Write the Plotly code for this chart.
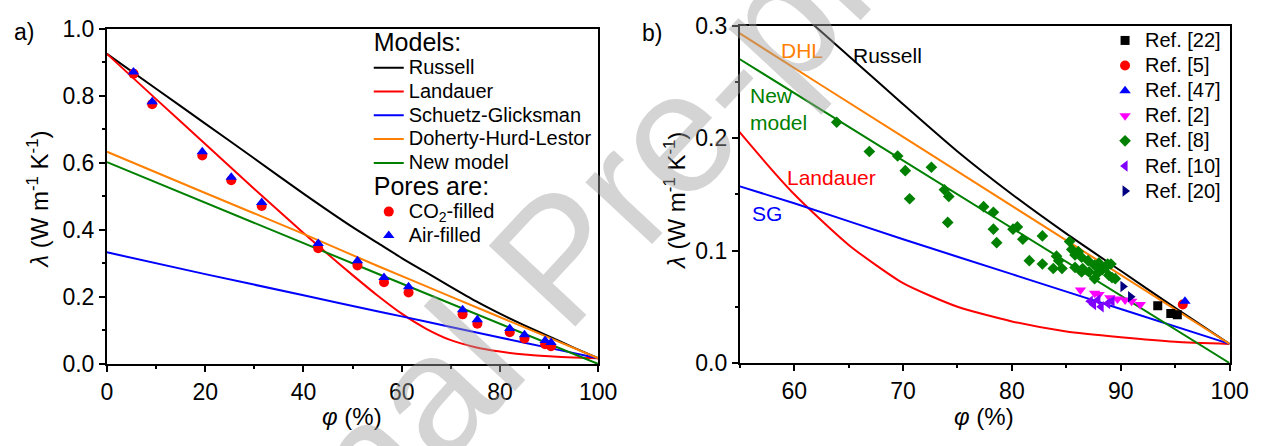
import plotly.graph_objects as go

# ---------------- model curves ----------------
phi_russell = [0, 10, 20, 30, 40, 50, 55, 60, 65, 70, 75, 80, 85, 90, 95, 100]
lam_russell = [0.925, 0.821, 0.717, 0.613, 0.508, 0.408, 0.362, 0.316, 0.273, 0.230,
               0.188, 0.150, 0.115, 0.082, 0.049, 0.017]
phi_landauer = [0, 10, 20, 30, 40, 45, 50, 55, 60, 65, 70, 75, 80, 85, 90, 95, 100]
lam_landauer = [0.925, 0.790, 0.656, 0.522, 0.391, 0.327, 0.265, 0.205, 0.150, 0.105,
                0.071, 0.050, 0.037, 0.028, 0.023, 0.019, 0.017]
phi_sg = [0, 20, 40, 55, 60, 70, 80, 90, 100]
lam_sg = [0.333, 0.268, 0.205, 0.157, 0.142, 0.110, 0.079, 0.048, 0.017]
phi_dhl = [0, 20, 40, 55, 70, 85, 100]
lam_dhl = [0.633, 0.510, 0.388, 0.293, 0.201, 0.109, 0.017]
phi_new = [0, 55, 100]
lam_new = [0.602, 0.270, 0.000]

# ---------------- panel a) experimental points ----------------
phi_exp = [5.4, 9.2, 19.4, 25.3, 31.5, 43.0, 51.0, 56.4, 61.4, 72.4, 75.4, 82.0, 85.0, 89.2, 90.4]
lam_air = [0.871, 0.782, 0.633, 0.557, 0.482, 0.359, 0.308, 0.258, 0.230, 0.162, 0.132,
           0.106, 0.087, 0.070, 0.064]
lam_co2 = [0.866, 0.775, 0.622, 0.548, 0.471, 0.345, 0.294, 0.244, 0.213, 0.148, 0.120,
           0.095, 0.076, 0.059, 0.053]

# ---------------- panel b) literature points ----------------
ref22_phi = [93.4, 94.6, 95.2]
ref22_lam = [0.051, 0.044, 0.043]
ref5_phi = [95.7]
ref5_lam = [0.052]
ref47_phi = [95.9]
ref47_lam = [0.055]
ref2_phi = [86.3, 87.6, 88.0, 89.0, 89.7, 90.4, 91.0, 91.8]
ref2_lam = [0.065, 0.062, 0.061, 0.058, 0.057, 0.056, 0.055, 0.052]
ref8_phi = [63.9, 66.9, 69.5, 70.2, 72.6, 70.6, 73.8, 74.2, 74.1, 77.4, 78.3, 78.3, 78.6,
            80.1, 80.5, 81.0, 82.8, 81.6, 82.8, 83.8, 84.6, 84.1, 84.3, 85.3, 85.5, 85.8,
            86.1, 86.4, 85.8, 86.5, 87.0, 87.1, 87.6, 87.9, 88.0, 88.3, 88.6, 88.9, 89.1,
            89.2, 88.8, 86.4, 87.6, 89.5]
ref8_lam = [0.214, 0.188, 0.184, 0.171, 0.174, 0.146, 0.154, 0.148, 0.125, 0.139, 0.134,
            0.119, 0.107, 0.119, 0.121, 0.110, 0.113, 0.091, 0.088, 0.084, 0.084, 0.095,
            0.091, 0.108, 0.101, 0.096, 0.099, 0.094, 0.085, 0.084, 0.091, 0.081, 0.087,
            0.080, 0.089, 0.083, 0.085, 0.078, 0.088, 0.076, 0.088, 0.081, 0.075, 0.075]
ref10_phi = [87.2, 87.5, 87.9, 88.2, 88.8, 89.2]
ref10_lam = [0.055, 0.052, 0.056, 0.050, 0.053, 0.055]
ref20_phi = [90.2, 90.9]
ref20_lam = [0.068, 0.059]

# ---------------- tick labels ----------------
a_xticks = [0, 20, 40, 60, 80, 100]
a_yticks = [0.0, 0.2, 0.4, 0.6, 0.8, 1.0]
b_xticks = [60, 70, 80, 90, 100]
b_yticks = [0.0, 0.1, 0.2, 0.3]

FONT = "Liberation Sans, Arial, sans-serif"
W, H = 1277, 446


def big(text, px):
    return '<span style="font-size:%dpx">%s</span>' % (px, text)


models = [
    ("Russell", phi_russell, lam_russell, "#000000"),
    ("Landauer", phi_landauer, lam_landauer, "#FF0000"),
    ("Schuetz-Glicksman", phi_sg, lam_sg, "#0000FF"),
    ("Doherty-Hurd-Lestor", phi_dhl, lam_dhl, "#FF8000"),
    ("New model", phi_new, lam_new, "#008000"),
]

fig = go.Figure()

for xa, ya, show in (("x", "y", True), ("x2", "y2", False)):
    for name, px, py, col in models:
        fig.add_trace(go.Scatter(
            x=px, y=py, mode="lines", name=big(name, 20),
            line=dict(color=col, width=2, shape="spline", smoothing=0.6),
            xaxis=xa, yaxis=ya, showlegend=show, legend="legend",
            legendgroup="models",
            legendgrouptitle=dict(text=big("Models:", 25), font=dict(size=13)),
        ))

fig.add_trace(go.Scatter(
    x=phi_exp, y=lam_co2, mode="markers", name=big("CO<sub>2</sub>-filled", 20),
    marker=dict(symbol="circle", color="#FF0000", size=10),
    xaxis="x", yaxis="y", legend="legend", legendgroup="pores",
    legendgrouptitle=dict(text=big("Pores are:", 25), font=dict(size=13)),
))
fig.add_trace(go.Scatter(
    x=phi_exp, y=lam_air, mode="markers", name=big("Air-filled", 20),
    marker=dict(symbol="triangle-up", color="#0000FF", size=10),
    xaxis="x", yaxis="y", legend="legend", legendgroup="pores",
    legendgrouptitle=dict(text=big("Pores are:", 25), font=dict(size=13)),
))

refs = [
    ("Ref. [22]", ref22_phi, ref22_lam, "square", "#000000", 9),
    ("Ref. [5]", ref5_phi, ref5_lam, "circle", "#FF0000", 10),
    ("Ref. [47]", ref47_phi, ref47_lam, "triangle-up", "#0000FF", 10),
    ("Ref. [2]", ref2_phi, ref2_lam, "triangle-down", "#FF00FF", 10),
    ("Ref. [8]", ref8_phi, ref8_lam, "diamond", "#008000", 9),
    ("Ref. [10]", ref10_phi, ref10_lam, "triangle-left", "#8000FF", 10),
    ("Ref. [20]", ref20_phi, ref20_lam, "triangle-right", "#000080", 10),
]
for name, px, py, sym, col, sz in refs:
    fig.add_trace(go.Scatter(
        x=px, y=py, mode="markers", name=big(name, 20),
        marker=dict(symbol=sym, color=col, size=sz),
        xaxis="x2", yaxis="y2", legend="legend2",
    ))

axis_common = dict(
    showline=True, linecolor="black", linewidth=2, mirror=True,
    ticks="outside", ticklen=6, tickwidth=2, tickcolor="black",
    showgrid=False, zeroline=False,
    tickfont=dict(size=23, color="black", family=FONT),
)

fig.update_layout(
    width=W, height=H, autosize=False,
    margin=dict(l=0, r=0, t=0, b=0),
    paper_bgcolor="white", plot_bgcolor="white",
    font=dict(family=FONT, size=20, color="black"),
    xaxis=dict(domain=[103 / W, 604 / W], range=[0, 100], anchor="y",
               tickvals=a_xticks, ticktext=[str(v) for v in a_xticks],
               minor=dict(dtick=10, tick0=0, ticks="outside", ticklen=3, tickwidth=2, tickcolor="black"),
               **axis_common),
    yaxis=dict(domain=[1 - 372.7 / H, 1 - 16.7 / H], range=[0, 1], anchor="x",
               tickvals=a_yticks, ticktext=["%.1f" % v for v in a_yticks],
               minor=dict(dtick=0.1, tick0=0, ticks="outside", ticklen=3, tickwidth=2, tickcolor="black"),
               **axis_common),
    xaxis2=dict(domain=[748.5 / W, 1248 / W], range=[55, 100], anchor="y2",
                tickvals=b_xticks, ticktext=[str(v) for v in b_xticks],
                minor=dict(dtick=5, tick0=0, ticks="outside", ticklen=3, tickwidth=2, tickcolor="black"),
                **axis_common),
    yaxis2=dict(domain=[1 - 371.7 / H, 1 - 13.3 / H], range=[0, 0.3], anchor="x2",
                tickvals=b_yticks, ticktext=["%.1f" % v for v in b_yticks],
                minor=dict(dtick=0.05, tick0=0, ticks="outside", ticklen=3, tickwidth=2, tickcolor="black"),
                **axis_common),
    legend=dict(x=370 / W, y=1 - 19 / H, xanchor="left", yanchor="top",
                bgcolor="rgba(0,0,0,0)", font=dict(size=16, family=FONT),
                traceorder="grouped", tracegroupgap=5),
    legend2=dict(x=1121 / W, y=1 - 10.5 / H, xanchor="left", yanchor="top",
                 bgcolor="rgba(0,0,0,0)", font=dict(size=17, family=FONT)),
)

ann = []
ytitle = "<i>λ</i> (W m<sup>-1</sup> K<sup>-1</sup>)"
xtitle = "<i>φ</i> (%)"


def pann(x, y, text, size, **kw):
    d = dict(x=x / W, y=1 - y / H, xref="paper", yref="paper", text=text,
             xanchor="center", yanchor="middle", showarrow=False,
             font=dict(size=size, family=FONT, color="black"))
    d.update(kw)
    return d


ann.append(pann(33, 198, ytitle, 24, textangle=-90))
ann.append(pann(683, 200, ytitle, 24, textangle=-90))
ann.append(pann(353, 428, xtitle, 24))
ann.append(pann(998, 428, xtitle, 24))
ann.append(pann(18, 20, "a)", 23))
ann.append(pann(659, 21, "b)", 23))


def dann(x, y, text, color, **kw):
    d = dict(x=x, y=y, xref="x2", yref="y2", text=text, showarrow=False,
             xanchor="center", yanchor="middle",
             font=dict(size=21, family=FONT, color=color))
    d.update(kw)
    return d


# in-plot curve labels (panel b)
ann.append(dann(68.56, 0.273, "Russell", "#000000"))
ann.append(dann(60.72, 0.278, "DHL", "#FF8000"))
ann.append(dann(55.77, 0.2255, "New<br>model", "#008000", xanchor="left", align="left"))
ann.append(dann(63.42, 0.1645, "Landauer", "#FF0000"))
ann.append(dann(57.48, 0.1327, "SG", "#0000FF"))
# watermark
ann.append(pann(563, 259, "Journal Pre-proof", 172, textangle=-47,
                font=dict(size=172, color="rgba(160,160,160,0.45)", family=FONT)))
fig.update_layout(annotations=ann)

fig.write_html("out.html")
